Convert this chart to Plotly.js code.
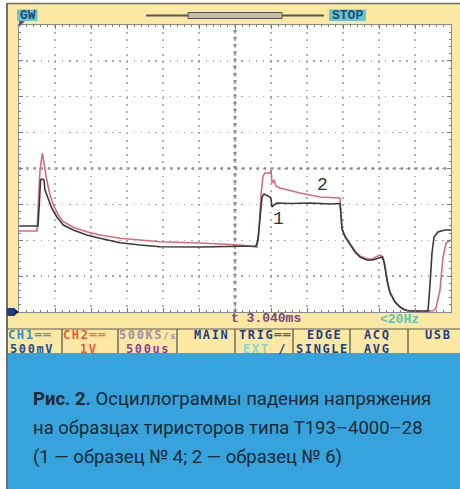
<!DOCTYPE html>
<html><head><meta charset="utf-8">
<script src="https://cdn.plot.ly/plotly-3.0.1.min.js"></script>
<style>
html,body{margin:0;padding:0;background:#fff;}
text[style*="DejaVu Sans Mono"]{letter-spacing:1.6px;}
</style>
</head><body><div id="chart" style="width:460px;height:489px;"></div>
<script>
// ---- data (time in ms, signal in screen divisions) ----
const timeMs1 = [0,0.264,0.285,0.299,0.319,0.347,0.361,0.407,0.454,0.524,
  0.615,0.754,0.940,1.125,1.403,1.681,1.958,2.514,3.069,3.292,
  3.319,3.347,3.375,3.403,3.486,3.500,3.514,3.542,3.583,3.764,
  4.042,4.319,4.458,4.472,4.486,4.528,4.597,4.667,4.736,4.833,
  4.917,4.986,5.042,5.069,5.097,5.125,5.153,5.222,5.292,5.361,
  5.431,5.681,5.708,5.736,5.764,5.819,5.917,6.000];
const sample4Div = [-1.603,-1.603,-0.878,-0.321,-0.293,-0.321,-0.599,-0.878,-1.101,-1.344,
  -1.575,-1.714,-1.854,-1.946,-2.068,-2.132,-2.180,-2.188,-2.160,-2.160,
  -1.993,-1.296,-0.794,-0.711,-0.794,-0.850,-1.073,-1.017,-0.962,-0.976,
  -0.962,-0.990,-0.976,-1.296,-1.686,-1.909,-2.132,-2.328,-2.467,-2.551,
  -2.551,-2.495,-2.467,-2.606,-2.969,-3.247,-3.470,-3.721,-3.861,-3.944,
  -3.972,-3.972,-3.247,-2.355,-1.909,-1.770,-1.714,-1.714];
const timeMs2 = [0,0.250,0.271,0.292,0.324,0.340,0.361,0.385,0.431,0.476,
  0.546,0.615,0.754,0.940,1.125,1.403,1.681,1.958,2.514,3.069,
  3.306,3.333,3.361,3.389,3.417,3.486,3.500,3.514,3.542,3.569,
  3.625,3.903,4.181,4.458,4.472,4.486,4.528,4.597,4.667,4.736,
  4.833,4.903,4.958,5.014,5.056,5.083,5.111,5.153,5.222,5.292,
  5.361,5.431,5.750,5.792,5.847,5.889,5.931,6.000];
const sample6Div = [-1.742,-1.742,-0.878,-0.042,0.432,0.237,-0.098,-0.321,-0.739,-1.017,
  -1.296,-1.483,-1.639,-1.762,-1.854,-1.946,-1.993,-2.040,-2.077,-2.132,
  -2.188,-1.714,-0.739,-0.209,-0.125,-0.125,-0.042,-0.404,-0.321,-0.488,
  -0.544,-0.683,-0.794,-0.822,-1.213,-1.658,-1.882,-2.105,-2.300,-2.439,
  -2.523,-2.523,-2.467,-2.411,-2.467,-2.690,-3.108,-3.443,-3.721,-3.861,
  -3.944,-3.972,-3.972,-3.889,-3.387,-2.467,-2.077,-1.993];
const traceLabels = ['1', '2'];
const menuLine1 = ['CH1══', 'CH2══', '500KS<span style="font-size:9px">/s</span>', 'MAIN', 'TRIG══', 'EDGE', 'ACQ', 'USB'];
const menuLine2 = ['500mV', '1V', '500us', '', 'EXT', 'SINGLE', 'AVG', ''];
const statusTime = 't 3.040ms';
const statusFreq = '<20Hz';
const captionLines = [
  '<b>Рис. 2.</b> Осциллограммы падения напряжения',
  'на образцах тиристоров типа Т193–4000–28',
  '(1 — образец № 4; 2 — образец № 6)'
];

// ---- layout helpers (pixel -> paper) ----
const L = 19, R = 451, T = 25, B = 312;
const px = x => (x - L) / (R - L);
const py = y => (B - y) / (B - T);
const NAVY = '#1d3f86';

function rect(x0, y0, x1, y1, fill, line) {
  return {type:'rect', xref:'paper', yref:'paper', x0:px(x0), x1:px(x1), y0:py(y0), y1:py(y1),
    fillcolor:fill, line: line || {width:0}, layer:'above'};
}
function seg(x0, y0, x1, y1, color, width) {
  return {type:'line', xref:'paper', yref:'paper', x0:px(x0), x1:px(x1), y0:py(y0), y1:py(y1),
    line:{color:color, width:width}, layer:'above'};
}
function ann(text, x, y, font, xanchor) {
  return {text:text, x:px(x), y:py(y), xref:'paper', yref:'paper', showarrow:false,
    xanchor: xanchor || 'center', yanchor:'middle', font:font};
}

const shapes = [
  rect(0, 0, 460, 3.5, '#ffffff'),
  rect(0, 0, 6.5, 489, '#ffffff'),
  seg(7, 3.5, 460, 3.5, '#6e6e6e', 1.5),
  rect(8, 353, 460, 489, '#36a3dc'),
  seg(7, 3, 7, 489, '#6e6e6e', 2),
  seg(7, 329, 460, 329, '#5a5a5a', 1.2),
  rect(17, 9.5, 37.5, 21, '#6fc4cb'),
  rect(329, 9.5, 366, 21, '#6fc4cb'),
  seg(146, 15.5, 324, 15.5, '#555555', 2),
  rect(188, 12.5, 282, 18.5, '#c9bc9e', {color:'#555555', width:1}),
  {type:'path', xref:'paper', yref:'paper', layer:'above',
   path:`M${px(19)},${py(21)} L${px(25)},${py(21)} L${px(19)},${py(27)} Z`,
   fillcolor:'#7b3f8c', line:{width:0}},
  rect(7, 308, 15, 316, NAVY),
  {type:'path', xref:'paper', yref:'paper', layer:'above',
   path:`M${px(15)},${py(309)} L${px(19)},${py(312)} L${px(15)},${py(315)} Z`,
   fillcolor:'#222222', line:{width:0}},
  // centre graticule lines
  {type:'line', xref:'x', yref:'paper', x0:3, x1:3, y0:0, y1:1, layer:'below',
   line:{color:'#858585', width:3, dash:'2.5px,4.675px'}},
  {type:'line', xref:'paper', yref:'y', x0:0, x1:1, y0:0, y1:0, layer:'below',
   line:{color:'#858585', width:2.4, dash:'2.4px,4.8px'}}
];
[62, 118, 177, 235, 293, 350, 408].forEach(x => shapes.push(seg(x, 329, x, 353, '#5a5a5a', 1.3)));

const mono = (c) => ({family:'DejaVu Sans Mono', size:12, color:c, weight:700});
const lmono = (c) => ({family:'Liberation Mono', size:13, color:c, weight:700});
const line1Colors = ['#2f8ccc', '#e95a3a', '#a28eab', NAVY, NAVY, NAVY, NAVY, NAVY];
const line2Colors = ['#1d4a9a', '#e95a3a', '#8e3ea2', NAVY, '#86d6d6', NAVY, NAVY, NAVY];
const line1X = [30, 85, 148, 211, 265, 324.5, 377, 438];
const line2X = [32, 89, 148, 211, 265, 322, 377, 438];

const annotations = [];
menuLine1.forEach((t, i) => annotations.push(ann(t, line1X[i], 335, mono(line1Colors[i]))));
menuLine2.forEach((t, i) => {
  if (!t) return;
  let txt = t;
  if (t === 'EXT') txt = 'EXT <span style="color:' + NAVY + '">/</span>';
  annotations.push(ann(txt, line2X[i], 348.5, mono(line2Colors[i])));
});
annotations.push(ann('GW', 27.5, 15.5, lmono('#1b4d78')));
annotations.push(ann('STOP', 347.5, 15.5, lmono('#1b4d78')));
annotations.push(ann(statusTime, 229, 318.5, lmono('#7b3f8c'), 'left'));
annotations.push(ann(statusFreq, 378, 319, lmono('#5cc3bb'), 'left'));
annotations.push(ann(traceLabels[0], 278, 219, {family:'Liberation Mono', size:18, color:'#333333'}));
annotations.push(ann(traceLabels[1], 322, 185, {family:'Liberation Mono', size:18, color:'#333333'}));
const capFont = {family:'Roboto', size:18.5, color:'#1d2933'};
[399, 428, 457].forEach((y, i) => annotations.push(ann(captionLines[i], 31, y, capFont, 'left')));

const traces = [
  {x: timeMs2, y: sample6Div, type:'scatter', mode:'lines', name:'образец № 6',
   line:{color:'#d66c7a', width:1.6}, hoverinfo:'skip'},
  {x: timeMs1, y: sample4Div, type:'scatter', mode:'lines', name:'образец № 4',
   line:{color:'#3a3a3a', width:1.6}, hoverinfo:'skip'}
];

const axisCommon = {showticklabels:false, zeroline:false, showline:true, linecolor:'#8a8a8a',
  linewidth:1, mirror:'allticks', ticks:'inside', ticklen:4, tickcolor:'#7a7a7a', tickwidth:1,
  showgrid:true, fixedrange:true};

const layout = {
  width:460, height:489,
  margin:{l:L, r:460 - R, t:T, b:489 - B, pad:0},
  paper_bgcolor:'#fbe8a2', plot_bgcolor:'#ffffff',
  showlegend:false,
  xaxis: Object.assign({}, axisCommon, {range:[0, 6], tick0:0, dtick:0.5, gridcolor:'#b2b2b2',
    gridwidth:1.8, griddash:'1.8px,5.375px',
    minor:{dtick:0.1, ticks:'inside', ticklen:2, tickcolor:'#7a7a7a', showgrid:false}}),
  yaxis: Object.assign({}, axisCommon, {range:[-4, 4], tick0:-4, dtick:1, gridcolor:'#a5a5a5',
    gridwidth:1.4, griddash:'1.4px,5.775px',
    minor:{dtick:0.2, ticks:'inside', ticklen:2, tickcolor:'#7a7a7a', showgrid:false}}),
  shapes: shapes,
  annotations: annotations
};

Plotly.newPlot('chart', traces, layout, {staticPlot:true, displayModeBar:false});
</script>
</body></html>
